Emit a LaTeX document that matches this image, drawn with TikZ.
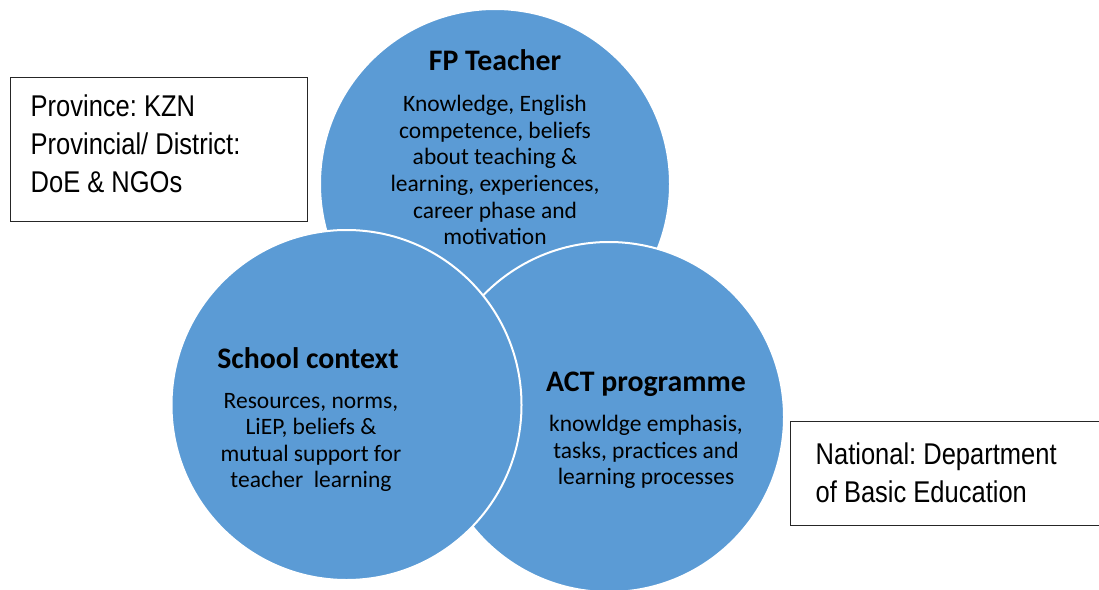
\documentclass[tikz,border=0pt]{standalone}
\usepackage{fontspec}
\setmainfont{Carlito}
\newfontfamily\boxfont[FakeStretch=0.85]{Liberation Sans}
\definecolor{circblue}{HTML}{5B9BD5}
\frenchspacing
\begin{document}
\begin{tikzpicture}[x=1pt,y=-1pt,
  circ/.style={circle,fill=circblue,draw=white,line width=2pt,minimum size=350pt,inner sep=0pt},
  ttl/.style={anchor=base,font=\fontsize{29.8}{32}\selectfont\bfseries,inner sep=0pt},
  body/.style={anchor=base,align=center,font=\fontsize{23.5}{26.6}\selectfont,inner sep=0pt},
  boxtxt/.style={anchor=base west,align=left,font=\boxfont\fontsize{30}{38}\selectfont\frenchspacing,inner sep=0pt},
  frame/.style={draw=black!85,line width=1pt}]
\useasboundingbox (0,0) rectangle (1099,589);
% circles
\node[circ] (teacher) at (495,184) {};
\node[circ] (act) at (609,417) {};
\node[circ] (school) at (346.5,405) {};
% texts (multi-line nodes: base = last line baseline)
\node[ttl] (tT) at (495,70) {FP Teacher};
\node[body] (tB) at (495,244.7) {Knowledge, English\\competence, beliefs\\about teaching \&\\learning, experiences,\\career phase and\\motivation};
\node[ttl] (sT) at (308,368.3) {School context};
\node[body] (sB) at (311,487.8) {Resources, norms,\\LiEP, beliefs \&\\mutual support for\\teacher\ \ learning};
\node[ttl] (aT) at (646,391.7) {ACT programme};
\node[body] (aB) at (646,484.9) {knowldge emphasis,\\tasks, practices and\\learning processes};
% boxes
\draw[frame] (10,77.3) rectangle (307.3,221.7);
\node[boxtxt] (prov) at (30.5,192.7) {Province: KZN\\Provincial/ District:\\DoE \& NGOs};
\draw[frame] (1100,421.7) -| (790,525) -- (1100,525);
\node[boxtxt] (nat) at (815.5,502) {National: Department\\of Basic Education};
\end{tikzpicture}
\end{document}
